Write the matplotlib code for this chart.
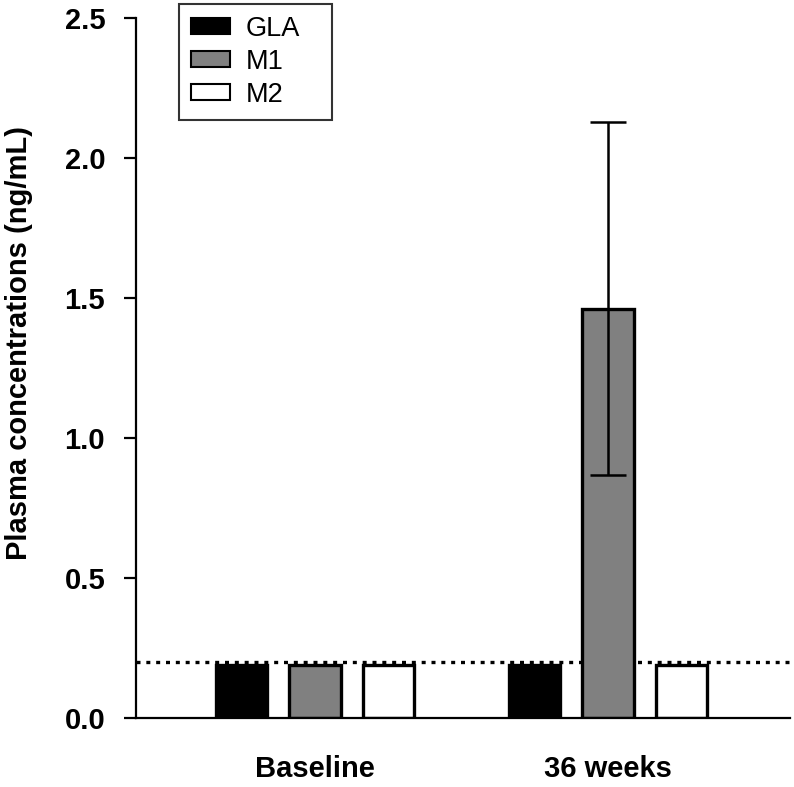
import matplotlib
matplotlib.use("Agg")
import matplotlib.pyplot as plt
import numpy as np

plt.rcParams['font.family'] = ['Liberation Sans', 'DejaVu Sans']

groups = ["Baseline", "36 weeks"]
series = ["GLA", "M1", "M2"]
colors = ["black", "#808080", "white"]
# plasma concentrations (ng/mL)
values = {
    "GLA": [0.19, 0.19],
    "M1": [0.19, 1.46],
    "M2": [0.19, 0.19],
}
# error bars (lower, upper) only on M1 at 36 weeks
m1_err_low = [0.0, 0.59]
m1_err_high = [0.0, 0.67]
lloq = 0.2

fig = plt.figure(figsize=(7.94, 7.87), dpi=100)
ax = fig.add_axes([0.171, 0.0877, 0.824, 0.889])

x = np.arange(len(groups))
offsets = [-0.25, 0.0, 0.25]
width = 0.175
for name, off, c in zip(series, offsets, colors):
    ax.bar(x + off, values[name], width, color=c, edgecolor="black",
           linewidth=2.4, label=name, zorder=2)

# error bar on M1 at 36 weeks
ax.errorbar([x[1] + offsets[1]], [values["M1"][1]],
            yerr=[[m1_err_low[1]], [m1_err_high[1]]],
            fmt="none", ecolor="black", elinewidth=1.8, capsize=13,
            capthick=1.8, zorder=3)

# dotted reference line (LLOQ)
ax.axhline(lloq, color="black", linestyle=(0, (1.2, 1.75)), linewidth=2.4, zorder=1)

ax.set_xlim(-0.611, 1.621)
ax.set_ylim(0, 2.5)
ax.set_yticks([0.0, 0.5, 1.0, 1.5, 2.0, 2.5])
ax.set_yticklabels(["0.0", "0.5", "1.0", "1.5", "2.0", "2.5"])
ax.set_xticks(x)
ax.set_xticklabels(groups)
ax.tick_params(axis="x", length=0, pad=27, labelsize=21)
ax.tick_params(axis="y", direction="out", length=9, width=1.6, pad=13, labelsize=21)
for lab in ax.get_xticklabels() + ax.get_yticklabels():
    lab.set_fontweight("bold")

ax.spines["top"].set_visible(False)
ax.spines["right"].set_visible(False)
ax.spines["left"].set_linewidth(1.6)
ax.spines["bottom"].set_linewidth(1.6)

ax.set_ylabel("Plasma concentrations (ng/mL)", fontsize=21, fontweight="bold")
ax.yaxis.set_label_coords(-0.157, 0.536)

leg = ax.legend(loc="upper left", bbox_to_anchor=(0.066, 0, 0.234, 1.021),
                mode="expand", fontsize=19.5,
                frameon=True, fancybox=False, edgecolor="black",
                handlelength=1.45, handleheight=0.52, borderpad=0.45,
                labelspacing=0.26, handletextpad=0.55, borderaxespad=0)
leg.get_frame().set_linewidth(1.5)
for h in leg.legend_handles:
    h.set_linewidth(1.5)

fig.savefig("out.png", dpi=100)
